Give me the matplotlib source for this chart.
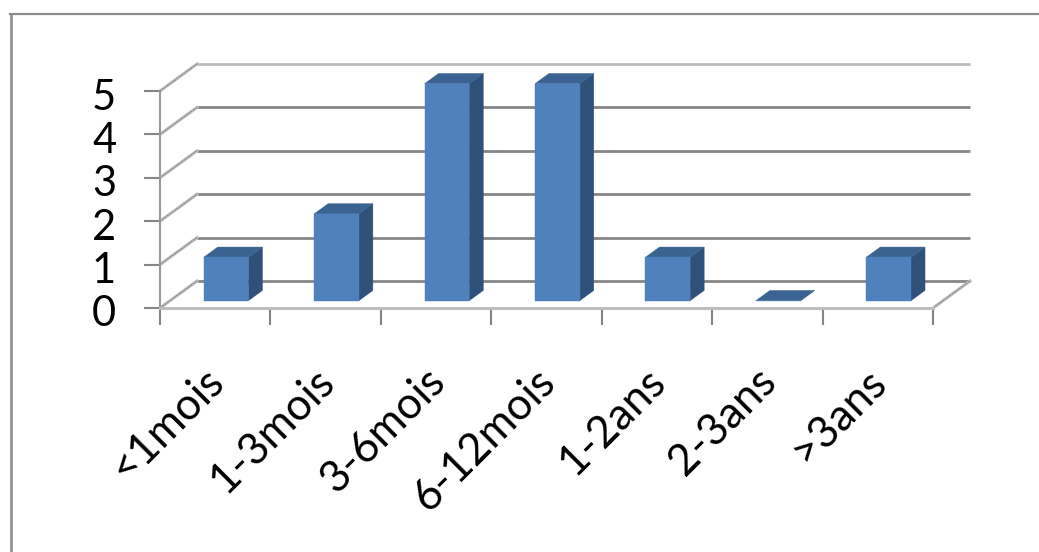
import matplotlib

matplotlib.use("Agg")
from matplotlib import pyplot as plt
from matplotlib.lines import Line2D
from matplotlib.patches import Polygon
from matplotlib.transforms import ScaledTranslation

categories = ["<1mois", "1-3mois", "3-6mois", "6-12mois", "1-2ans", "2-3ans", ">3ans"]
values = [1, 2, 5, 5, 1, 0, 1]
y_ticks = [0, 1, 2, 3, 4, 5]

W, H = 1039, 552

# shear of the fake 3D box, one unit of depth in data units
DEPTH_X = 0.335
DEPTH_Y = 0.622
# bar placement inside a category
BAR_OFFSET = 0.305
BAR_WIDTH = 0.405
BAR_Z0 = 0.27
BAR_Z1 = 0.65

FRONT = "#4f81bd"
SIDE = "#2f5179"
TOP = "#3a6391"
GRID = "#868686"
GRID_LIGHT = "#bdbdbd"


def project(x, y, z):
    return x + z * DEPTH_X, y + z * DEPTH_Y


def draw_bar(ax, i, value):
    x0 = i + BAR_OFFSET
    x1 = x0 + BAR_WIDTH
    face = [project(x0, 0, BAR_Z0), project(x1, 0, BAR_Z0), project(x1, value, BAR_Z0), project(x0, value, BAR_Z0)]
    side = [project(x1, 0, BAR_Z0), project(x1, 0, BAR_Z1), project(x1, value, BAR_Z1), project(x1, value, BAR_Z0)]
    top = [project(x0, value, BAR_Z0), project(x1, value, BAR_Z0), project(x1, value, BAR_Z1), project(x0, value, BAR_Z1)]
    for pts, color in ((side, SIDE), (top, TOP), (face, FRONT)):
        ax.add_patch(Polygon(pts, closed=True, facecolor=color, edgecolor=color, linewidth=0.3, clip_on=False, zorder=4))


plt.rcParams["font.family"] = ["Lato", "DejaVu Sans"]

fig = plt.figure(figsize=(W / 100, H / 100), dpi=100)
ax = fig.add_axes([160 / W, 1 - 308 / H, (933 - 160) / W, (308 - 91) / H])
ax.set_xlim(0, len(categories))
ax.set_ylim(0, y_ticks[-1])
ax.patch.set_alpha(0)

# back wall and the slanted lines running back from the y axis
for v in y_ticks:
    back_color = GRID_LIGHT if v == y_ticks[-1] else GRID
    xs, ys = zip(project(0, v, 1), project(len(categories), v, 1))
    ax.plot(xs, ys, color=back_color, lw=2.0, clip_on=False, zorder=1, solid_capstyle="butt")
    xs, ys = zip(project(0, v, 0), project(0, v, 1))
    ax.plot(xs, ys, color=GRID_LIGHT, lw=2.2, clip_on=False, zorder=1)
    ax.plot(xs, ys, color=GRID, lw=0.7, clip_on=False, zorder=1, ls=(0, (2, 1)))

# right edge of the floor
xs, ys = zip(project(len(categories), 0, 0), project(len(categories), 0, 1))
ax.plot(xs, ys, color=GRID_LIGHT, lw=2.2, clip_on=False, zorder=1)
ax.plot(xs, ys, color=GRID, lw=0.7, clip_on=False, zorder=1, ls=(0, (2, 1)))

for i, value in enumerate(values):
    draw_bar(ax, i, value)

for name in ("top", "right"):
    ax.spines[name].set_visible(False)
ax.spines["left"].set_color("#9a9a9a")
ax.spines["left"].set_linewidth(1.5)
ax.spines["bottom"].set_color(GRID_LIGHT)
ax.spines["bottom"].set_linewidth(2.2)

ax.set_yticks(y_ticks)
ax.tick_params(axis="y", length=11.5, width=1.5, color=GRID, labelsize=30, pad=20)
ax.set_xticks(range(len(categories) + 1))
ax.set_xticklabels([])
ax.tick_params(axis="x", which="major", length=12, width=1.5, color=GRID)

# digits hang a little below their ticks
nudge = ScaledTranslation(0, -3 / 100, fig.dpi_scale_trans)
for label in ax.get_yticklabels():
    label.set_transform(label.get_transform() + nudge)

# category names sit on minor ticks, centred between the major ones
ax.set_xticks([i + 0.5 for i in range(len(categories))], minor=True)
ax.set_xticklabels(categories, minor=True, rotation=45, ha="right", va="center", rotation_mode="anchor", fontsize=31.5)
ax.tick_params(axis="x", which="minor", length=0, pad=48)
nudge_x = ScaledTranslation(2 / 100, 0, fig.dpi_scale_trans)
for label in ax.get_xticklabels(minor=True):
    label.set_transform(label.get_transform() + nudge_x)

# only the top and left edges of the outer frame are there
fig.add_artist(Line2D([10.5 / W, 10.5 / W], [0, 1 - 14 / H], color="#949494", lw=2.0))
fig.add_artist(Line2D([9.5 / W, 1], [1 - 14 / H, 1 - 14 / H], color="#8c8c8c", lw=1.6))

fig.savefig("out.png", dpi=100)
